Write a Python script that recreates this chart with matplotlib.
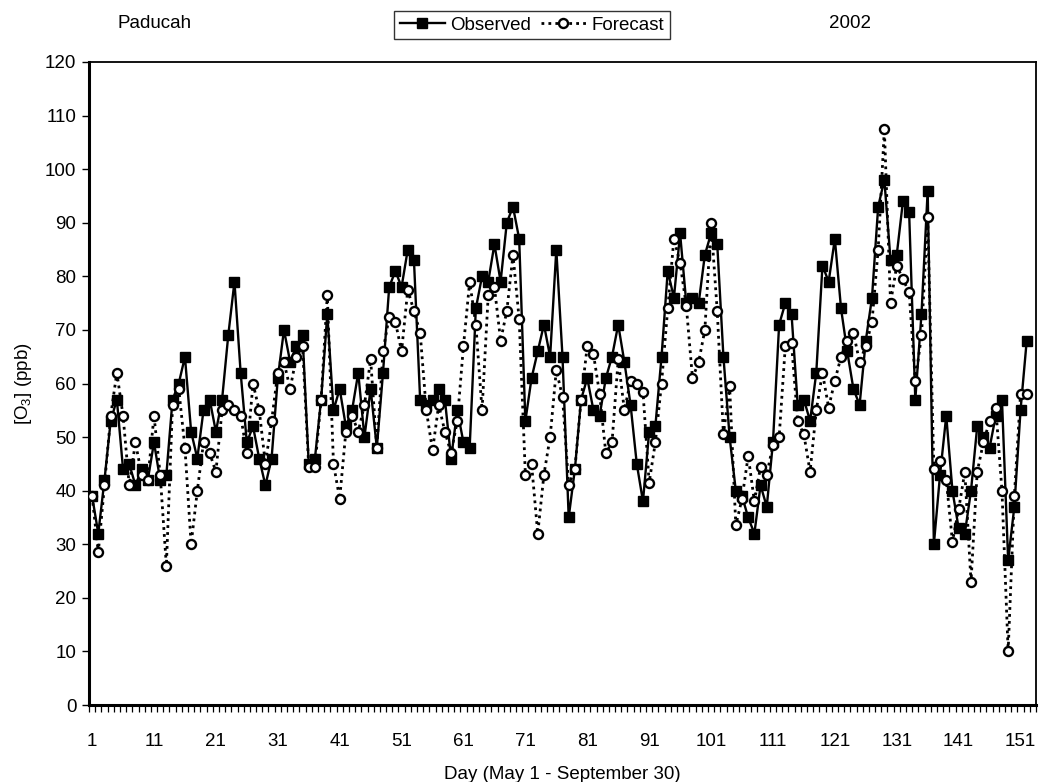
import numpy as np
import matplotlib.pyplot as plt
from matplotlib.ticker import MultipleLocator

plt.rcParams['font.family'] = ['Liberation Sans', 'DejaVu Sans']
plt.rcParams['mathtext.fontset'] = 'custom'
plt.rcParams['mathtext.rm'] = 'Liberation Sans'

# observed and forecast ozone, day 1 = May 1
observed = [39, 32, 42, 53, 57, 44, 45, 41, 44, 42,
            49, 42, 43, 57, 60, 65, 51, 46, 55, 57,
            51, 57, 69, 79, 62, 49, 52, 46, 41, 46,
            61, 70, 64, 67, 69, 45, 46, 57, 73, 55,
            59, 52, 55, 62, 50, 59, 48, 62, 78, 81,
            78, 85, 83, 57, 56, 57, 59, 57, 46, 55,
            49, 48, 74, 80, 79, 86, 79, 90, 93, 87,
            53, 61, 66, 71, 65, 85, 65, 35, 44, 57,
            61, 55, 54, 61, 65, 71, 64, 56, 45, 38,
            51, 52, 65, 81, 76, 88, 75, 76, 75, 84,
            88, 86, 65, 50, 40, 39, 35, 32, 41, 37,
            49, 71, 75, 73, 56, 57, 53, 62, 82, 79,
            87, 74, 66, 59, 56, 68, 76, 93, 98, 83,
            84, 94, 92, 57, 73, 96, 30, 43, 54, 40,
            33, 32, 40, 52, 50, 48, 54, 57, 27, 37,
            55, 68]

forecast = [39, 28.5, 41, 54, 62, 54, 41, 49, 43, 42,
            54, 43, 26, 56, 59, 48, 30, 40, 49, 47,
            43.5, 55, 56, 55, 54, 47, 60, 55, 45, 53,
            62, 64, 59, 65, 67, 44.5, 44.5, 57, 76.5, 45,
            38.5, 51, 54, 51, 56, 64.5, 48, 66, 72.5, 71.5,
            66, 77.5, 73.5, 69.5, 55, 47.5, 56, 51, 47, 53,
            67, 79, 71, 55, 76.5, 78, 68, 73.5, 84, 72,
            43, 45, 32, 43, 50, 62.5, 57.5, 41, 44, 57,
            67, 65.5, 58, 47, 49, 64.5, 55, 60.5, 60, 58.5,
            41.5, 49, 60, 74, 87, 82.5, 74.5, 61, 64, 70,
            90, 73.5, 50.5, 59.5, 33.5, 38.5, 46.5, 38, 44.5, 43,
            48.5, 50, 67, 67.5, 53, 50.5, 43.5, 55, 62, 55.5,
            60.5, 65, 68, 69.5, 64, 67, 71.5, 85, 107.5, 75,
            82, 79.5, 77, 60.5, 69, 91, 44, 45.5, 42, 30.5,
            36.5, 43.5, 23, 43.5, 49, 53, 55.5, 40, 10, 39,
            58, 58]

n_days = 153
xtick_labels = [str(d) for d in range(1, 152, 10)]

days = np.arange(1, len(observed) + 1)

W, H = 1039, 782
fs = 13.5
fig = plt.figure(figsize=(W / 100, H / 100), dpi=100)
# axes box in pixels: left 89, right 1036, top 62, bottom 705
ax = fig.add_axes([89 / W, 1 - 705 / H, (1036 - 89) / W, (705 - 62) / H])

ax.plot(days, observed, color='black', lw=1.7, marker='s', ms=7,
        mfc='black', mec='black', label='Observed', zorder=3)
ax.plot(days, forecast, color='black', lw=2, ls=(0, (1, 1.5)), marker='o',
        ms=6.5, mfc='white', mec='black', mew=1.7, label='Forecast', zorder=4)

ax.set_xlim(0.5, n_days + 0.5)
ax.set_ylim(0, 120)
ax.yaxis.set_major_locator(MultipleLocator(10))
ax.set_xticks(range(1, 152, 10))
ax.set_xticklabels(xtick_labels)
ax.set_xticks(np.arange(0.5, n_days + 1, 1), minor=True)

ax.tick_params(axis='x', which='major', length=0, pad=20, labelsize=fs)
ax.tick_params(axis='x', which='minor', length=5, width=0.9, direction='out')
ax.tick_params(axis='y', which='major', length=5, width=1, direction='out',
               labelsize=fs, pad=4)

for s in ax.spines.values():
    s.set_linewidth(1.3)
ax.spines['left'].set_linewidth(2.2)
ax.spines['bottom'].set_linewidth(2.2)

ax.set_xlabel('Day (May 1 - September 30)', fontsize=fs, labelpad=12)
ax.set_ylabel(r'[O$_3$] (ppb)', fontsize=fs, labelpad=8)

fig.text(155 / W, 1 - 24 / H, 'Paducah', fontsize=fs, ha='center', va='center')
fig.text(850 / W, 1 - 24 / H, '2002', fontsize=fs, ha='center', va='center')

leg = fig.legend(loc='center', bbox_to_anchor=(532 / W, 1 - 25 / H), ncol=2,
                 frameon=True, fancybox=False, fontsize=fs, handlelength=2.4,
                 handletextpad=0.3, columnspacing=0.5, borderpad=0.3,
                 borderaxespad=0)
leg.get_frame().set_edgecolor('black')
leg.get_frame().set_linewidth(1)

fig.savefig('out.png', dpi=100)
